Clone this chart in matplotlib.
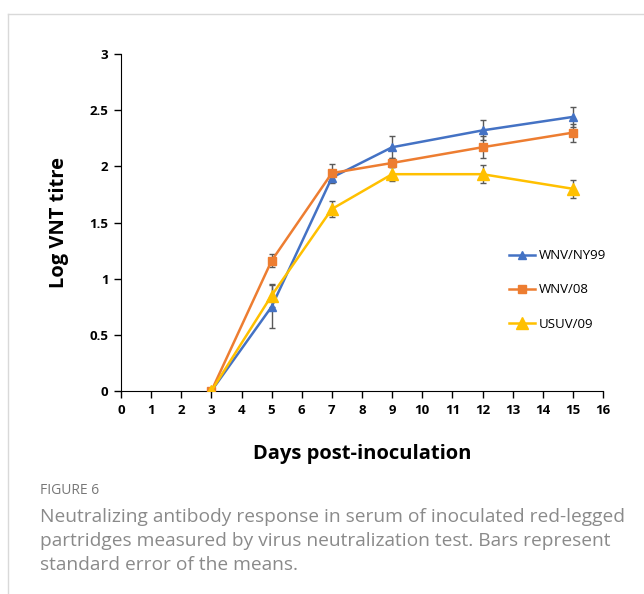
import matplotlib
matplotlib.use("Agg")
import matplotlib.pyplot as plt
from matplotlib.lines import Line2D

days = [3, 5, 7, 9, 12, 15]

ny99 = [0, 0.75, 1.90, 2.17, 2.32, 2.44]
ny99_err = [0, 0.19, 0.05, 0.10, 0.09, 0.09]

wnv08 = [0, 1.16, 1.94, 2.03, 2.17, 2.30]
wnv08_err = [0, 0.06, 0.08, 0.04, 0.10, 0.08]

usuv09 = [0, 0.85, 1.62, 1.93, 1.93, 1.80]
usuv09_err = [0, 0.10, 0.07, 0.06, 0.08, 0.08]

series = [
    ("WNV/NY99", ny99, ny99_err, "#4472C4", "^", 6),
    ("WNV/08", wnv08, wnv08_err, "#ED7D31", "s", 6),
    ("USUV/09", usuv09, usuv09_err, "#FFC000", "^", 9),
]

caption_lines = [
    "Neutralizing antibody response in serum of inoculated red-legged",
    "partridges measured by virus neutralization test. Bars represent",
    "standard error of the means.",
]

plt.rcParams['font.family'] = ['Open Sans', 'DejaVu Sans']

fig = plt.figure(figsize=(6.44, 5.94), dpi=100)
ax = fig.add_axes([121 / 644, 1 - 391 / 594, 482 / 644, 337 / 594])

handles = []
for name, vals, err, color, marker, ms in series:
    ax.errorbar(days, vals, yerr=err, color=color, marker=marker, markersize=ms,
                lw=1.8, ecolor="#595959", elinewidth=1, capsize=2.5, capthick=1,
                zorder=3)
    handles.append(Line2D([0], [0], color=color, marker=marker, markersize=ms,
                          lw=1.8, label=name))

ax.set_xlim(0, 16)
ax.set_ylim(0, 3)
ax.set_xticks(range(0, 17))
ax.set_yticks([0, 0.5, 1, 1.5, 2, 2.5, 3])
ax.set_yticklabels(["0", "0.5", "1", "1.5", "2", "2.5", "3"])
for lab in ax.get_xticklabels() + ax.get_yticklabels():
    lab.set_fontweight("bold")
    lab.set_fontsize(9.5)
ax.tick_params(axis="both", direction="out", length=5, width=1, color="black", pad=4)
ax.spines["top"].set_visible(False)
ax.spines["right"].set_visible(False)

ax.set_xlabel("Days post-inoculation", fontsize=14.5, fontweight="bold", labelpad=20)
ax.set_ylabel("Log VNT titre", fontsize=14.5, fontweight="bold", labelpad=15)

ax.legend(handles=handles, loc="center left", bbox_to_anchor=(0.78, 0.30),
          frameon=False, fontsize=9.5, labelspacing=1.6, handlelength=2.0,
          handletextpad=0.3)

# card border
fig.add_artist(Line2D([8 / 644, 1], [1 - 14 / 594, 1 - 14 / 594], color="#d9d9d9", lw=1))
fig.add_artist(Line2D([8 / 644, 8 / 644], [0, 1 - 14 / 594], color="#d9d9d9", lw=1))

fig.text(40 / 644, 1 - 491 / 594, "FIGURE 6", fontsize=10, color="#777777", va="center")
for i, line in enumerate(caption_lines):
    fig.text(40 / 644, 1 - (517 + 24 * i) / 594, line, fontsize=13.8,
             color="#8a8a8a", va="center")

fig.savefig("out.png", dpi=100)
